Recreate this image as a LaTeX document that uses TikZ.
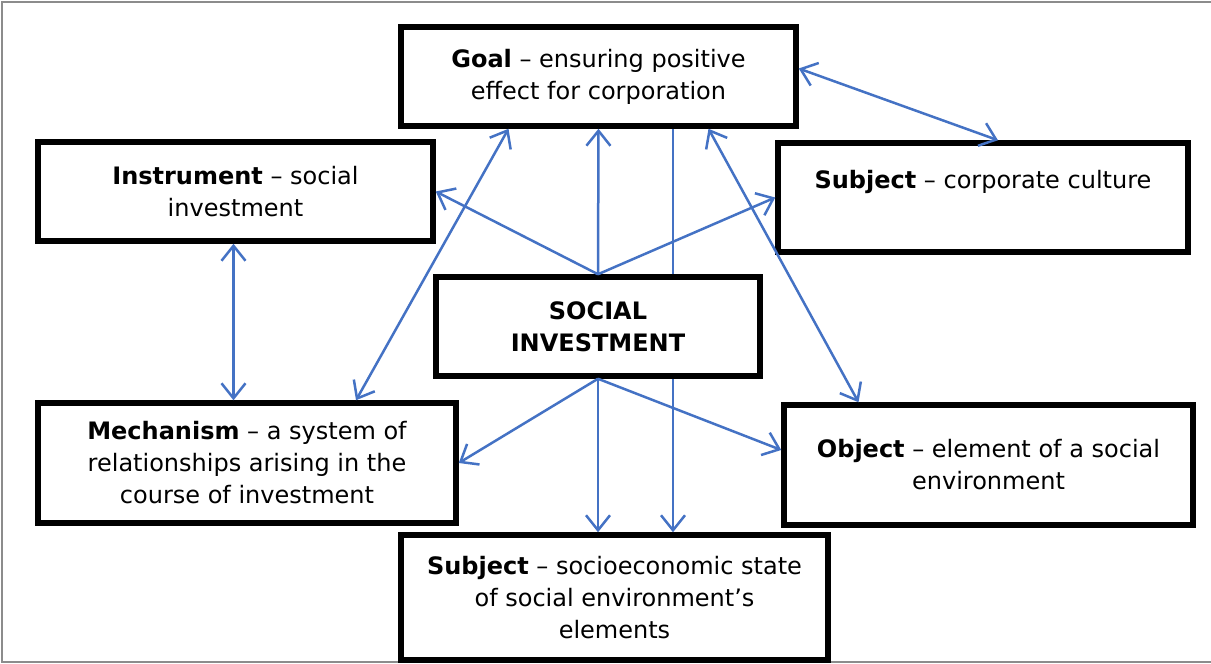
\documentclass[tikz,border=0pt]{standalone}
\usepackage{fontspec}
\setmainfont{DejaVu Sans}
\usetikzlibrary{arrows.meta}
\definecolor{linkblue}{RGB}{68,114,196}
\newcommand{\boxfont}{\fontsize{24}{32}\selectfont}
\tikzset{
  infobox/.style={
    rectangle,
    draw=black,
    line width=5.5pt,
    fill=white,
    align=center,
    inner sep=0pt,
    font=\boxfont
  },
  link/.style={-{Straight Barb[length=15pt,width=24pt]}, line width=2.5pt, draw=linkblue},
  twolink/.style={{Straight Barb[length=15pt,width=24pt]}-{Straight Barb[length=15pt,width=24pt]}, line width=2.5pt, draw=linkblue}
}

\begin{document}
\begin{tikzpicture}[x=1pt, y=-1pt]
  \useasboundingbox (0,0) rectangle (1211,664);
  \draw[black!45, line width=2.5pt] (1211,2) -- (2,2) -- (2,662) -- (1211,662);

  \node[infobox, minimum width=395pt, minimum height=99pt] (goal) at (598.5,76.5) {\textbf{Goal} – ensuring positive\\effect for corporation};
  \node[infobox, minimum width=395pt, minimum height=99pt] (instr) at (235.5,191.5) {\textbf{Instrument} – social\\investment};
  \node[infobox, minimum width=410pt, minimum height=109pt] (culture) at (983,197.5) {\raisebox{16pt}[\height][\depth]{\textbf{Subject} – corporate culture}};
  \node[infobox, minimum width=324pt, minimum height=99pt, font=\boxfont\bfseries] (invest) at (598,326.5) {SOCIAL\\INVESTMENT};
  \node[infobox, minimum width=418pt, minimum height=120pt] (mech) at (247,463) {\textbf{Mechanism} – a system of\\relationships arising in the\\course of investment};
  \node[infobox, minimum width=409pt, minimum height=120pt] (object) at (988.5,465) {\textbf{Object} – element of a social\\environment};
  \node[infobox, minimum width=427pt, minimum height=125pt] (socio) at (614.5,597.5) {\textbf{Subject} – socioeconomic state\\of social environment’s\\elements};

  \draw[link] (invest.north) -- (instr.east);
  \draw[link] (invest.north) -- (goal.south);
  \draw[link] (invest.north) -- (culture.west);
  \draw[line width=2.5pt, draw=linkblue] ([xshift=75pt]invest.north) -- ([xshift=75pt]invest.north |- goal.south);
  \draw[twolink] ([yshift=8pt]goal.east) -- ([xshift=15pt]culture.north);
  \draw[twolink] ([xshift=-2pt]instr.south) -- ([xshift=-2pt]instr.south |- mech.north);
  \draw[twolink] ([xshift=-90pt]goal.south) -- ([xshift=109pt]mech.north);
  \draw[twolink] ([xshift=110pt]goal.south) -- ([xshift=-130pt]object.north);
  \draw[link] (invest.south) -- (mech.east);
  \draw[link] (invest.south) -- ([yshift=15pt]object.west);
  \draw[link] (invest.south) -- (invest.south |- socio.north);
  \draw[link] ([xshift=75pt]invest.south) -- ([xshift=75pt]invest.south |- socio.north);
\end{tikzpicture}
\end{document}
